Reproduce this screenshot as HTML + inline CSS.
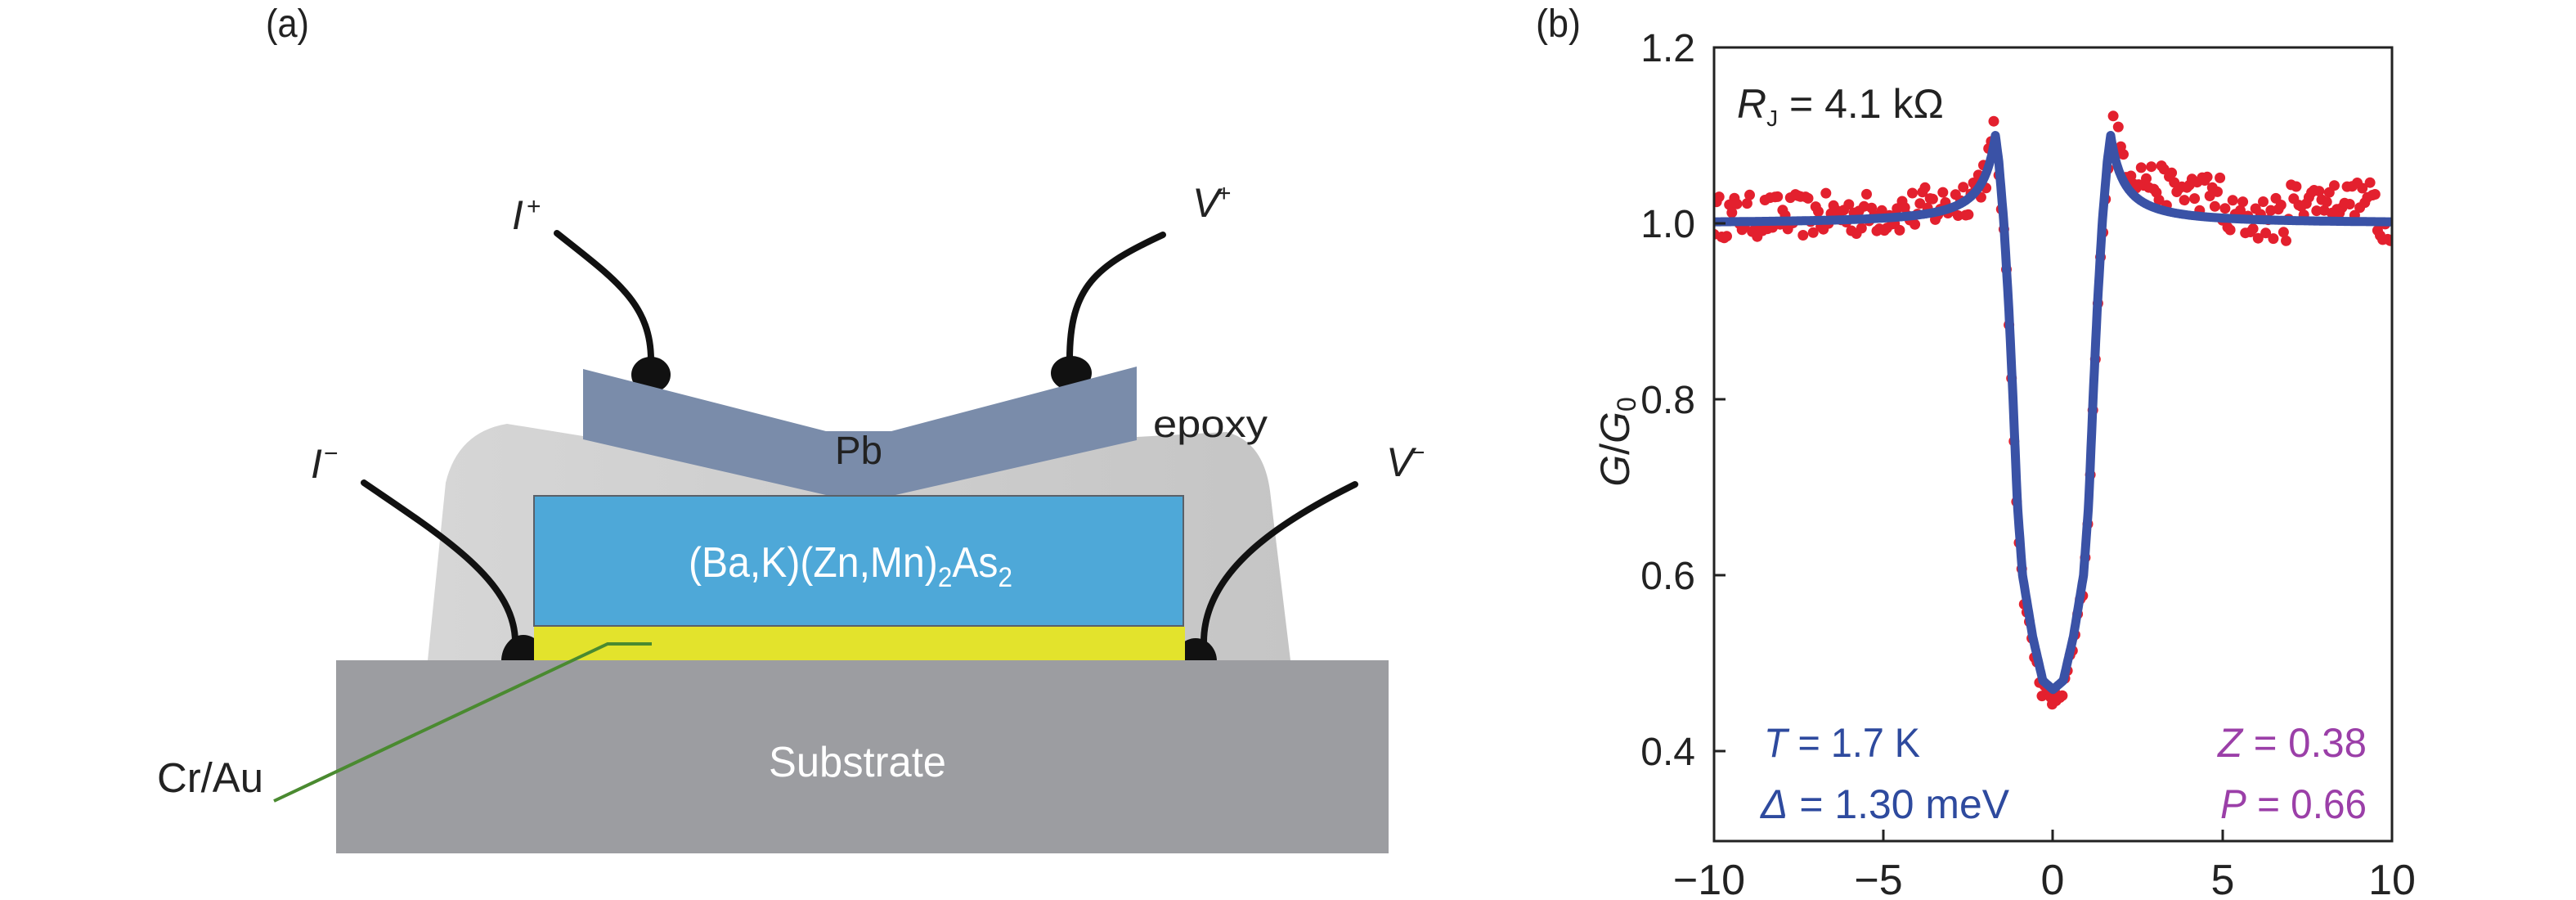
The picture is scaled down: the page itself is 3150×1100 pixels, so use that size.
<!DOCTYPE html>
<html><head><meta charset="utf-8"><style>
html,body{margin:0;padding:0;background:#fff;}
svg{display:block;}
text{font-family:"Liberation Sans",sans-serif;}
</style></head><body>
<svg id="s" width="3150" height="1100" viewBox="0 0 3150 1100" xmlns="http://www.w3.org/2000/svg">
<defs>
<linearGradient id="ep" x1="0" x2="1" y1="0" y2="0"><stop offset="0" stop-color="#d6d6d6"/><stop offset="1" stop-color="#c5c5c5"/></linearGradient>
<clipPath id="fr"><rect x="2096" y="58" width="829" height="970"/></clipPath>
</defs>
<!-- (a) panel -->
<text x="325" y="45" font-size="48" textLength="53" lengthAdjust="spacingAndGlyphs" fill="#222">(a)</text>
<!-- epoxy -->
<path d="M523,807 L545,590 Q560,528 620,518 L713,533 L1390,534 L1500,528 Q1545,540 1553,600 L1578,807 Z" fill="url(#ep)"/>
<!-- wires & blobs -->
<path d="M681,285 C750,340 796,370 796,440" fill="none" stroke="#111" stroke-width="8" stroke-linecap="round"/>
<ellipse cx="796" cy="458" rx="24" ry="22" fill="#111"/>
<path d="M1422,287 C1340,325 1308,350 1308,440" fill="none" stroke="#111" stroke-width="8" stroke-linecap="round"/>
<ellipse cx="1310" cy="456" rx="25" ry="21" fill="#111"/>
<path d="M445,590 C540,655 630,710 630,785" fill="none" stroke="#111" stroke-width="8" stroke-linecap="round"/>
<ellipse cx="640" cy="808" rx="27" ry="32" fill="#111"/>
<path d="M1657,592 C1560,640 1472,700 1472,785" fill="none" stroke="#111" stroke-width="8" stroke-linecap="round"/>
<ellipse cx="1462" cy="808" rx="26" ry="28" fill="#111"/>
<!-- Pb -->
<polygon points="713,451 1010,527 1090,527 1390,448 1390,538 1095,605 1010,605 713,537" fill="#7a8caa"/>
<!-- layers -->
<rect x="653" y="606" width="794" height="159" fill="#4ea8d8" stroke="#5a6068" stroke-width="2"/>
<rect x="653" y="766" width="796" height="41" fill="#e3e32c"/>
<rect x="411" y="807" width="1287" height="236" fill="#9c9da1"/>
<!-- Cr/Au leader -->
<polyline points="797,787 743,787 335,979" fill="none" stroke="#4a8a30" stroke-width="4"/>
<!-- labels -->
<text x="1021" y="567" font-size="48" textLength="58" lengthAdjust="spacingAndGlyphs" fill="#222">Pb</text>
<text x="1410" y="534" font-size="46" textLength="140" lengthAdjust="spacingAndGlyphs" fill="#222">epoxy</text>
<text x="842" y="705" font-size="52" fill="#fff" textLength="396" lengthAdjust="spacingAndGlyphs">(Ba,K)(Zn,Mn)<tspan font-size="34" dy="12">2</tspan><tspan dy="-12">As</tspan><tspan font-size="34" dy="12">2</tspan></text>
<text x="940" y="949" font-size="52" fill="#fff" textLength="217" lengthAdjust="spacingAndGlyphs">Substrate</text>
<text x="192" y="968" font-size="51" fill="#222" textLength="130" lengthAdjust="spacingAndGlyphs">Cr/Au</text>
<text x="626" y="280" font-size="50" font-style="italic" fill="#222">I</text><text x="644" y="262" font-size="30" fill="#222">+</text>
<text x="380" y="584" font-size="50" font-style="italic" fill="#222">I</text><text x="396" y="564" font-size="30" fill="#222">−</text>
<text x="1458" y="265" font-size="50" font-style="italic" fill="#222">V</text><text x="1488" y="246" font-size="30" fill="#222">+</text>
<text x="1695" y="582" font-size="50" font-style="italic" fill="#222">V</text><text x="1725" y="563" font-size="30" fill="#222">−</text>

<!-- (b) panel -->
<text x="1878" y="45" font-size="48" textLength="55" lengthAdjust="spacingAndGlyphs" fill="#222">(b)</text>
<g id="plotdata" clip-path="url(#fr)"></g>
<rect x="2096" y="58" width="829" height="970" fill="none" stroke="#222" stroke-width="3"/>
<g stroke="#222" stroke-width="3">
<line x1="2096" y1="273" x2="2110" y2="273"/><line x1="2096" y1="488" x2="2110" y2="488"/>
<line x1="2096" y1="703" x2="2110" y2="703"/><line x1="2096" y1="918" x2="2110" y2="918"/>
<line x1="2303" y1="1028" x2="2303" y2="1014"/><line x1="2510" y1="1028" x2="2510" y2="1014"/>
<line x1="2718" y1="1028" x2="2718" y2="1014"/>
</g>
<g font-size="48" fill="#222" text-anchor="end">
<text x="2073" y="75">1.2</text><text x="2073" y="290">1.0</text><text x="2073" y="505">0.8</text>
<text x="2073" y="720">0.6</text><text x="2073" y="935">0.4</text>
</g>
<g font-size="52" fill="#222" text-anchor="middle">
<text x="2090" y="1093">−10</text><text x="2297" y="1093">−5</text><text x="2510" y="1093">0</text>
<text x="2718" y="1093">5</text><text x="2925" y="1093">10</text>
</g>
<text transform="translate(1992,540) rotate(-90)" font-size="50" fill="#222" text-anchor="middle"><tspan font-style="italic">G</tspan>/<tspan font-style="italic">G</tspan><tspan font-size="32" dy="8">0</tspan></text>
<text x="2124" y="144" font-size="50" fill="#222"><tspan font-style="italic">R</tspan><tspan font-size="28" dy="10">J</tspan><tspan dy="-10"> = 4.1 kΩ</tspan></text>
<text x="2157" y="925" font-size="50" fill="#2e4a9e" textLength="191" lengthAdjust="spacingAndGlyphs"><tspan font-style="italic">T</tspan> = 1.7 K</text>
<text x="2153" y="1000" font-size="50" fill="#2e4a9e" textLength="304" lengthAdjust="spacingAndGlyphs"><tspan font-style="italic">Δ</tspan> = 1.30 meV</text>
<text x="2712" y="925" font-size="50" fill="#9b3fa8" textLength="182" lengthAdjust="spacingAndGlyphs"><tspan font-style="italic">Z</tspan> = 0.38</text>
<text x="2715" y="1000" font-size="50" fill="#9b3fa8" textLength="179" lengthAdjust="spacingAndGlyphs"><tspan font-style="italic">P</tspan> = 0.66</text>
</svg>
<script>
(function(){
var NS="http://www.w3.org/2000/svg";
function X(e){return 2510.5+41.45*e;}
function Y(v){return 58+(1.2-v)*1075;}
var T=[[0,0.47],[0.3,0.48],[0.6,0.53],[0.9,0.60],[1.05,0.68],[1.18,0.80],[1.3,0.90],[1.45,1.0],[1.6,1.07],[1.7,1.10]];
function G(e){var a=Math.abs(e);
 if(a>=1.7){var d=a-1.7;return 1+0.1*Math.pow(0.6/(d+0.6),1.5);}
 for(var i=1;i<T.length;i++){if(a<=T[i][0]){var t=(a-T[i-1][0])/(T[i][0]-T[i-1][0]);return T[i-1][1]+t*(T[i][1]-T[i-1][1]);}}
 return 1.1;}
var seed=12345;function R(){seed=(seed*16807)%2147483647;return seed/2147483647;}
var g=document.getElementById("plotdata");
var s="";
for(var e=-10;e<=10.01;e+=0.075){
 var a=Math.abs(e),v;
 if(a<1.75){v=G(e)-0.012+(R()-0.5)*0.02;}
 else if(e<0){v=G(e)+0.006+(R()-0.5)*0.05;}
 else if(e<5){v=G(e)+0.028+(R()-0.5)*0.045;}
 else if(e<7){v=1.0+0.005+(R()-0.5)*0.05;}
 else if(e<9.5){v=1.028+(R()-0.5)*0.04;}
 else {v=0.995+(R()-0.5)*0.03;}
 s+='<circle cx="'+X(e).toFixed(1)+'" cy="'+Y(v).toFixed(1)+'" r="6.5" fill="#e3202e"/>';
}
s+='<circle cx="2508" cy="852" r="7" fill="#e3202e"/><circle cx="2514" cy="856" r="7" fill="#e3202e"/>';
var p=[];
for(var e2=-10;e2<=10.001;e2+=0.02){p.push(X(e2).toFixed(1)+","+Y(G(e2)).toFixed(1));}
s+='<polyline points="'+p.join(" ")+'" fill="none" stroke="#3a52a6" stroke-width="11" stroke-linejoin="round" stroke-linecap="round"/>';
g.innerHTML=s;
})();
</script>
</body></html>
